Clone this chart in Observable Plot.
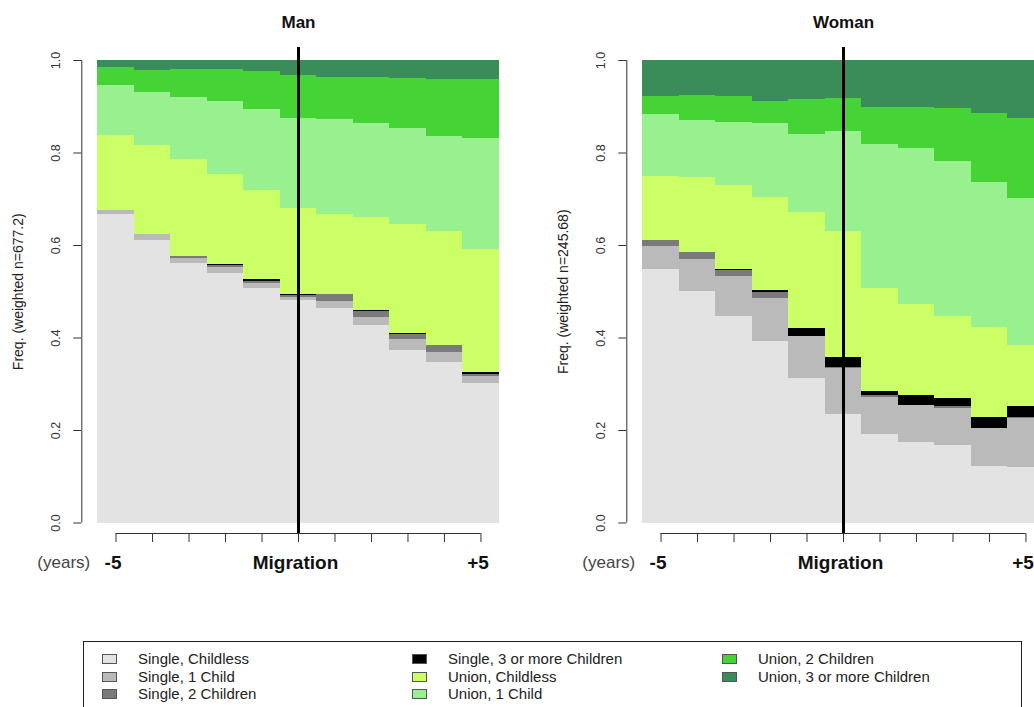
<!DOCTYPE html>
<html><head><meta charset="utf-8">
<script src="https://cdn.jsdelivr.net/npm/d3@7"></script>
<script src="https://cdn.jsdelivr.net/npm/@observablehq/plot@0.6"></script>
<style>
html,body{margin:0;padding:0;background:#fff;overflow:hidden;}
#wrap{position:relative;width:1034px;height:707px;overflow:hidden;font-family:"Liberation Sans",Arial,Helvetica,sans-serif;}
.panel{position:absolute;top:0;}
#legend{position:absolute;left:83px;top:641px;width:939px;height:90px;border:1px solid #222;box-sizing:border-box;}
.li{position:absolute;font-size:15px;color:#222;height:17px;line-height:17px;white-space:nowrap;}
.sw{position:absolute;left:0;top:4px;width:13px;height:8px;border:1px solid #555;}
.li .t{position:absolute;left:36px;top:0;}
</style></head><body><div id="wrap"><div id="legend"></div></div>
<script>
// ---- data ----
const years = [-5, -4, -3, -2, -1, 0, 1, 2, 3, 4, 5];
const xTickLabels = ["-5", "", "", "", "", "Migration", "", "", "", "", "+5"];
const yTicks = [0, 0.2, 0.4, 0.6, 0.8, 1.0];
const states = ["Single, Childless", "Single, 1 Child", "Single, 2 Children", "Single, 3 or more Children",
                "Union, Childless", "Union, 1 Child", "Union, 2 Children", "Union, 3 or more Children"];
const stateColors = ["#E3E3E3", "#BABABA", "#7A7A7A", "#000000", "#CCFF66", "#98F08F", "#46D336", "#3A8C59"];

// Man (weighted n = 677.2)
const manSingleChildless = [0.666, 0.610, 0.561, 0.540, 0.508, 0.482, 0.464, 0.426, 0.374, 0.346, 0.301];
const manSingle1Child    = [0.010, 0.014, 0.011, 0.012, 0.010, 0.006, 0.016, 0.019, 0.022, 0.023, 0.016];
const manSingle2Children = [0.000, 0.000, 0.005, 0.005, 0.004, 0.004, 0.013, 0.012, 0.012, 0.014, 0.005];
const manSingle3Children = [0.000, 0.000, 0.000, 0.003, 0.005, 0.002, 0.000, 0.002, 0.002, 0.000, 0.004];
const manUnionChildless  = [0.162, 0.193, 0.209, 0.193, 0.193, 0.187, 0.173, 0.201, 0.235, 0.248, 0.265];
const manUnion1Child     = [0.109, 0.113, 0.134, 0.158, 0.173, 0.193, 0.206, 0.204, 0.207, 0.205, 0.240];
const manUnion2Children  = [0.038, 0.048, 0.060, 0.069, 0.083, 0.094, 0.092, 0.100, 0.110, 0.124, 0.127];
const manUnion3Children  = [0.015, 0.022, 0.020, 0.020, 0.024, 0.032, 0.036, 0.036, 0.038, 0.040, 0.042];

// Woman (weighted n = 245.68)
const womanSingleChildless = [0.548, 0.501, 0.447, 0.393, 0.313, 0.235, 0.191, 0.174, 0.167, 0.122, 0.120];
const womanSingle1Child    = [0.050, 0.069, 0.087, 0.092, 0.090, 0.098, 0.081, 0.079, 0.081, 0.082, 0.107];
const womanSingle2Children = [0.013, 0.014, 0.012, 0.014, 0.000, 0.004, 0.004, 0.000, 0.003, 0.000, 0.002];
const womanSingle3Children = [0.000, 0.000, 0.002, 0.003, 0.018, 0.021, 0.008, 0.022, 0.019, 0.024, 0.023];
const womanUnionChildless  = [0.138, 0.164, 0.182, 0.202, 0.250, 0.272, 0.222, 0.197, 0.177, 0.194, 0.132];
const womanUnion1Child     = [0.134, 0.122, 0.137, 0.160, 0.170, 0.216, 0.313, 0.338, 0.335, 0.315, 0.318];
const womanUnion2Children  = [0.040, 0.054, 0.056, 0.047, 0.075, 0.072, 0.079, 0.089, 0.115, 0.148, 0.173];
const womanUnion3Children  = [0.077, 0.076, 0.077, 0.089, 0.084, 0.082, 0.102, 0.101, 0.103, 0.115, 0.125];

const manSeries = [manSingleChildless, manSingle1Child, manSingle2Children, manSingle3Children,
                   manUnionChildless, manUnion1Child, manUnion2Children, manUnion3Children];
const womanSeries = [womanSingleChildless, womanSingle1Child, womanSingle2Children, womanSingle3Children,
                     womanUnionChildless, womanUnion1Child, womanUnion2Children, womanUnion3Children];

// ---- drawing ----
function stackRows(series) {
  const rows = [];
  years.forEach((t, i) => {
    let c = 0;
    states.forEach((s, k) => {
      const v = series[k][i];
      rows.push({t, state: s, y1: c, y2: c + v});
      c += v;
    });
  });
  return rows;
}

function panel(title, ylab, series, left) {
  const rows = stackRows(series);
  const chart = Plot.plot({
    width: 540, height: 600,
    marginLeft: 97.3, marginRight: 41.3, marginTop: 60, marginBottom: 77.5,
    x: {type: "linear", domain: [-5.5, 5.5]},
    y: {domain: [0, 1]},
    color: {domain: states, range: stateColors},
    style: {fontFamily: "'Liberation Sans', Arial, Helvetica, sans-serif", background: "transparent", overflow: "visible", color: "#222"},
    marks: [
      Plot.rect(rows, {x1: d => d.t - 0.5, x2: d => d.t + 0.5, y1: "y1", y2: "y2", fill: "state", shapeRendering: "crispEdges"}),
      Plot.ruleX([0], {y1: 1, y2: 0, stroke: "#000", strokeWidth: 3, insetTop: -13, insetBottom: -10.5}),
      // y axis
      Plot.ruleX([-5.5], {y1: 0, y2: 1, dx: -16, stroke: "#333"}),
      Plot.axisY({ticks: yTicks, tickSize: 8, dx: -16, tickFormat: () => "", label: null, stroke: "#333"}),
      Plot.text(yTicks, {y: d => d, text: d => d.toFixed(1), frameAnchor: "left", textAnchor: "middle", lineAnchor: "middle", dx: -42, rotate: -90, fontSize: 12.5, fill: "#333"}),
      Plot.text([ylab], {frameAnchor: "left", textAnchor: "middle", lineAnchor: "middle", dx: -79, rotate: -90, fontSize: 14, fill: "#222"}),
      // x axis
      Plot.ruleY([0], {x1: years[0], x2: years[years.length - 1], dy: 10.5, stroke: "#333"}),
      Plot.axisX({ticks: years, tickSize: 9, dy: 10.5, tickFormat: () => "", label: null, stroke: "#333"}),
      Plot.text(years, {x: d => d, text: (d, i) => xTickLabels[i], frameAnchor: "bottom", lineAnchor: "middle", dy: 39.5, dx: -3, fontSize: 19, fontWeight: "bold", fill: "#111"}),
      Plot.text(["(years)"], {frameAnchor: "bottom-left", textAnchor: "middle", lineAnchor: "middle", dx: -34, dy: 39.5, fontSize: 17, fill: "#444"}),
      Plot.text([title], {frameAnchor: "top", lineAnchor: "middle", dy: -38, fontSize: 17, fontWeight: "bold", fill: "#111"})
    ]
  });
  chart.classList.add("panel");
  chart.style.left = left + "px";
  document.getElementById("wrap").appendChild(chart);
}

panel("Man", "Freq. (weighted n=677.2)", manSeries, 0);
panel("Woman", "Freq. (weighted n=245.68)", womanSeries, 545.4);

// legend
const legend = document.getElementById("legend");
const colLeft = [18, 328, 638];
const rowTop = [8, 25.5, 43];
states.forEach((s, k) => {
  const col = Math.floor(k / 3), row = k % 3;
  const item = document.createElement("div");
  item.className = "li";
  item.style.left = colLeft[col] + "px";
  item.style.top = rowTop[row] + "px";
  const sw = document.createElement("div");
  sw.className = "sw";
  sw.style.background = stateColors[k];
  const t = document.createElement("span");
  t.className = "t";
  t.textContent = s;
  item.appendChild(sw);
  item.appendChild(t);
  legend.appendChild(item);
});
</script></body></html>
